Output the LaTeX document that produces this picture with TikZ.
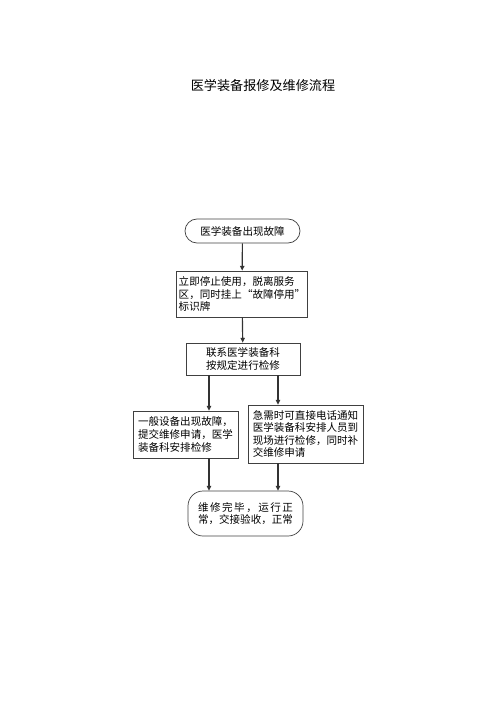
\documentclass[tikz,border=0pt]{standalone}
\usepackage{fontspec}
\newfontfamily\cjk{Noto Sans CJK SC}
\usetikzlibrary{arrows.meta,positioning}

\tikzset{
  box/.style={draw=black!75, line width=0.6pt, inner sep=2pt, font=\cjk\fontsize{9}{10.7}\selectfont},
  term/.style={box, rounded corners=0.36cm},
  arr/.style={-{Triangle[length=4pt,width=3.6pt]}, line width=1pt, black!80},
}

\begin{document}
\begin{tikzpicture}[x=0.03cm, y=-0.03cm]

    % Page
    \useasboundingbox (0,0) rectangle (500,707);

    % Title
    \node[font=\cjk\fontsize{11.2}{13}\selectfont] (title) at (263,85) {医学装备报修及维修流程};

    % Steps
    \node[term, minimum width=3.45cm, minimum height=0.72cm] (fault) at (242.5,231) {医学装备出现故障};
    \node[box, align=left, minimum width=3.72cm, minimum height=1.38cm] (stop) at (242,294)
        {立即停止使用，脱离服务\\区，同时挂上“故障停用”\\标识牌};
    \node[box, align=center, minimum width=3.42cm, minimum height=0.96cm] (contact) at (243,359)
        {联系医学装备科\\按规定进行检修};

    % Two ways
    \node[box, align=left, minimum width=3.15cm, minimum height=1.41cm] (normal) at (185.5,434.5)
        {一般设备出现故障，\\提交维修申请，医学\\装备科安排检修};
    \node[box, align=left, minimum width=3.45cm, minimum height=1.74cm] (urgent) at (305.5,434)
        {急需时可直接电话通知\\医学装备科安排人员到\\现场进行检修，同时补\\交维修申请};

    % End
    \node[box, rounded corners=0.45cm, align=left, minimum width=3.45cm, minimum height=1.35cm] (done) at (245.5,513.5)
        {\hbox to 9em{维\hfil 修\hfil 完\hfil 毕\hfil ，\hfil 运\hfil 行\hfil 正}\\常，交接验收，正常};

    % Connectors
    \coordinate (xl) at (209,0);
    \coordinate (xr) at (278,0);
    \draw[arr] (fault) -- (stop);
    \draw[arr] (stop) -- (contact);
    \draw[arr] (contact.south -| xl) -- (normal.north -| xl);
    \draw[arr] (contact.south -| xr) -- (urgent.north -| xr);
    \draw[arr] (normal.south -| xl) -- (done.north -| xl);
    \draw[arr] (urgent.south -| xr) -- (done.north -| xr);

\end{tikzpicture}
\end{document}
